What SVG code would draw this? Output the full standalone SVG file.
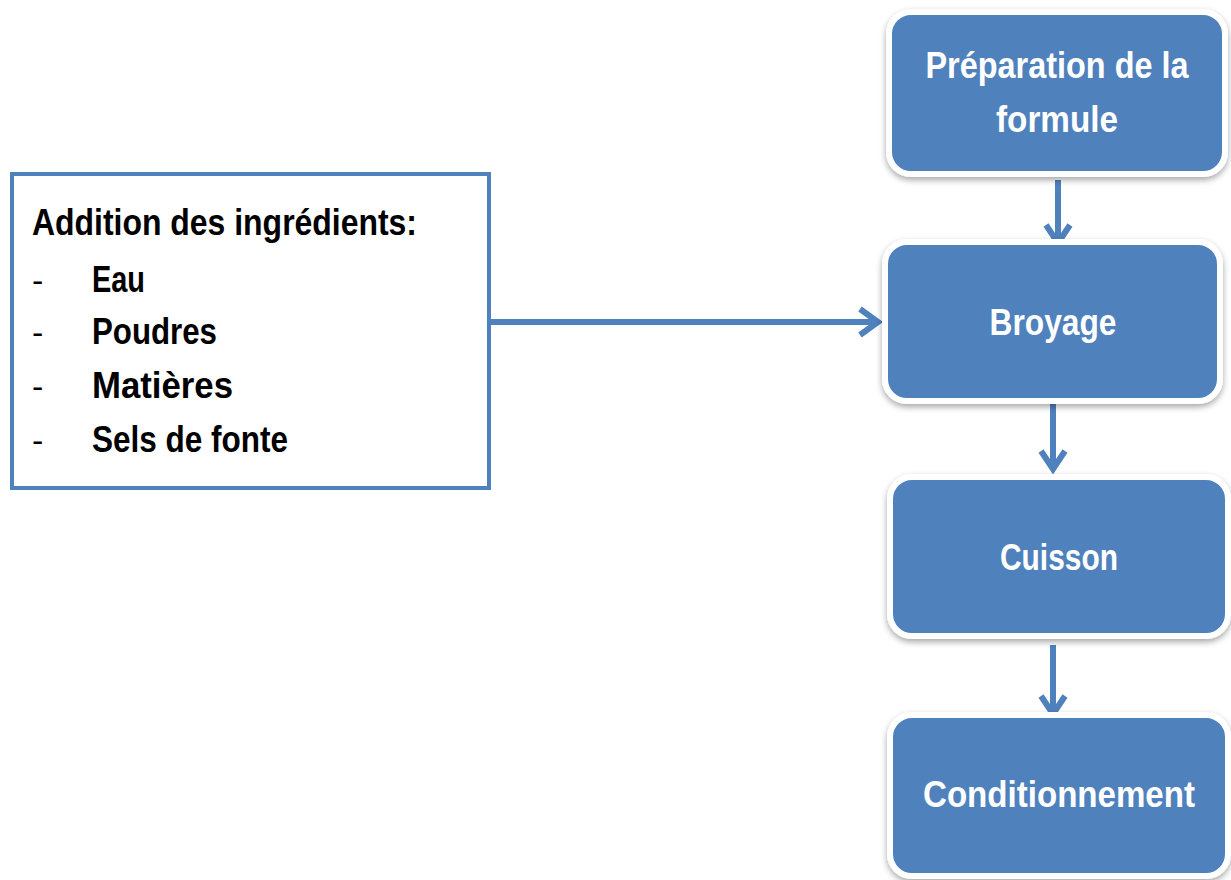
<svg xmlns="http://www.w3.org/2000/svg" width="1231" height="880" viewBox="0 0 1231 880">
<defs>
<style>
.box{fill:#4f81bd;stroke:#ffffff;stroke-width:6}
.lbl{fill:#ffffff;font-family:"Liberation Sans",Arial,sans-serif;font-weight:bold;font-size:37px;text-anchor:middle}
.txt{fill:#000000;font-family:"Liberation Sans",Arial,sans-serif;font-weight:bold;font-size:37px}
.dash{fill:#000000;font-family:"Liberation Sans",Arial,sans-serif;font-size:34px}
.con{stroke:#4f81bd;stroke-width:6;fill:none}
.head{stroke:#4f81bd;stroke-width:6;fill:none;stroke-linejoin:miter}
</style>
<filter id="sh" x="-10%" y="-10%" width="120%" height="130%">
<feDropShadow dx="0" dy="3" stdDeviation="3" flood-color="#000" flood-opacity="0.35"/>
</filter>
</defs>
<rect width="1231" height="880" fill="#ffffff"/>
<g id="connectors">
<line class="con" x1="490" y1="322" x2="876" y2="322"/>
<polyline class="head" points="860,309 878,322 860,335"/>
<line class="con" x1="1058" y1="180" x2="1058" y2="242"/>
<polyline class="head" points="1046,225 1058,243 1070,225"/>
<line class="con" x1="1053" y1="404" x2="1053" y2="468"/>
<polyline class="head" points="1041,451 1053,469 1065,451"/>
<line class="con" x1="1053" y1="645" x2="1053" y2="713"/>
<polyline class="head" points="1041,696 1053,714 1065,696"/>
</g>
<g id="ingredients">
<rect x="12" y="174" width="477" height="314" fill="#ffffff" stroke="#4f81bd" stroke-width="4"/>
<text class="txt" x="32" y="235" textLength="385" lengthAdjust="spacingAndGlyphs">Addition des ingrédients:</text>
<text class="dash" x="32" y="292">-</text>
<text class="txt" x="92" y="292" textLength="53" lengthAdjust="spacingAndGlyphs">Eau</text>
<text class="dash" x="32" y="344">-</text>
<text class="txt" x="92" y="344" textLength="125" lengthAdjust="spacingAndGlyphs">Poudres</text>
<text class="dash" x="32" y="398">-</text>
<text class="txt" x="92" y="398" textLength="141" lengthAdjust="spacingAndGlyphs">Matières</text>
<text class="dash" x="32" y="452">-</text>
<text class="txt" x="92" y="452" textLength="196" lengthAdjust="spacingAndGlyphs">Sels de fonte</text>
</g>
<g id="preparation">
<rect class="box" x="889" y="12" width="336" height="162" rx="22" filter="url(#sh)"/>
<text class="lbl" x="1057" y="78" textLength="263" lengthAdjust="spacingAndGlyphs">Préparation de la</text>
<text class="lbl" x="1057" y="132" textLength="122" lengthAdjust="spacingAndGlyphs">formule</text>
</g>
<g id="broyage">
<rect class="box" x="885" y="242" width="335" height="159" rx="22" filter="url(#sh)"/>
<text class="lbl" x="1053" y="335" textLength="127" lengthAdjust="spacingAndGlyphs">Broyage</text>
</g>
<g id="cuisson">
<rect class="box" x="890" y="477" width="338" height="159" rx="22" filter="url(#sh)"/>
<text class="lbl" x="1059" y="570" textLength="118" lengthAdjust="spacingAndGlyphs">Cuisson</text>
</g>
<g id="conditionnement">
<rect class="box" x="890" y="715" width="338" height="161" rx="22" filter="url(#sh)"/>
<text class="lbl" x="1059" y="807" textLength="272" lengthAdjust="spacingAndGlyphs">Conditionnement</text>
</g>
</svg>
